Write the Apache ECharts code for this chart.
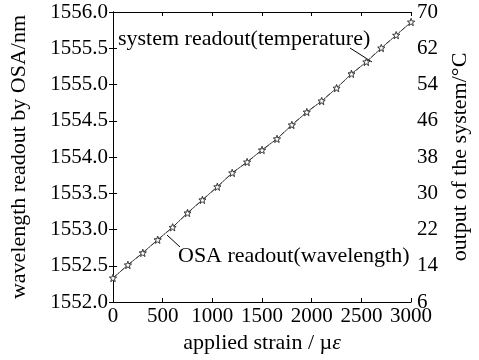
<!DOCTYPE html>
<html>
<head>
<meta charset="utf-8">
<script src="https://cdn.jsdelivr.net/npm/echarts@6/dist/echarts.min.js"></script>
<style>
  html, body { margin: 0; padding: 0; background: #fff; }
  #chart { width: 479px; height: 360px; }
</style>
</head>
<body>
<div id="chart"></div>
<script>
// applied strain (µε)
const strain = [0, 150, 300, 450, 600, 750, 900, 1050, 1200, 1350, 1500,
  1650, 1800, 1950, 2100, 2250, 2400, 2550, 2700, 2850, 3000];
// OSA readout, wavelength (nm)
const wavelength = [1552.33, 1552.51, 1552.68, 1552.86, 1553.03, 1553.23, 1553.41,
  1553.59, 1553.78, 1553.93, 1554.10, 1554.25, 1554.44, 1554.62, 1554.77,
  1554.95, 1555.15, 1555.31, 1555.50, 1555.68, 1555.86];
// system readout, temperature (°C)
const temperature = [11.3, 14.2, 16.8, 19.7, 22.5, 25.6, 28.5, 31.4, 34.5, 36.9,
  39.5, 42.0, 45.1, 47.9, 50.4, 53.2, 56.3, 59.0, 62.1, 64.9, 67.8];

const FONT = '"Liberation Serif", "DejaVu Serif", serif';
const star = 'path://M0,-10 L2.35,-3.24 L9.51,-3.09 L3.8,1.24 L5.88,8.09 L0,4 L-5.88,8.09 L-3.8,1.24 L-9.51,-3.09 L-2.35,-3.24 Z';

const chart = echarts.init(document.getElementById('chart'), null, { renderer: 'canvas' });

const axisLine = { show: true, lineStyle: { color: '#000', width: 1 } };
const tickIn = { show: true, inside: true, length: 4, lineStyle: { color: '#000' } };
const labelStyle = { color: '#000', fontSize: 21, fontFamily: FONT };
const nameStyle = { color: '#000', fontSize: 22, fontFamily: FONT };

const option = {
  backgroundColor: '#fff',
  animation: false,
  textStyle: { fontFamily: FONT },
  grid: { left: 111, right: 59, top: 12, bottom: 58 },
  xAxis: [
    {
      type: 'value', min: 0, max: 3000, interval: 500,
      axisLine, axisTick: tickIn, splitLine: { show: false },
      axisLabel: { ...labelStyle, margin: 4, formatter: v => String(v) },
      name: 'applied strain / µ{it|ε}',
      nameLocation: 'middle', nameGap: 30,
      nameTextStyle: {
        ...nameStyle,
        rich: { it: { fontStyle: 'italic', fontSize: 22, fontFamily: FONT, color: '#000' } }
      }
    },
    {
      type: 'value', position: 'top', min: 0, max: 3000, interval: 500,
      axisLine, axisTick: tickIn, axisLabel: { show: false }, splitLine: { show: false }
    }
  ],
  yAxis: [
    {
      type: 'value', min: 1552, max: 1556, interval: 0.5,
      axisLine, axisTick: tickIn, splitLine: { show: false },
      axisLabel: { ...labelStyle, margin: 5, formatter: v => v.toFixed(1) },
      name: 'wavelength readout by OSA/nm',
      nameLocation: 'middle', nameGap: 83,
      nameTextStyle: nameStyle
    },
    {
      type: 'value', position: 'right', min: 6, max: 70, interval: 8,
      axisLine, axisTick: tickIn, splitLine: { show: false },
      axisLabel: { ...labelStyle, margin: 6 },
      name: 'output of the system/°C',
      nameLocation: 'middle', nameGap: 36, nameRotate: 90,
      nameTextStyle: nameStyle
    }
  ],
  series: [
    {
      name: 'OSA readout(wavelength)',
      type: 'line', yAxisIndex: 0,
      data: strain.map((s, i) => [s, wavelength[i]]),
      symbol: star, symbolSize: 7,
      itemStyle: { color: '#fff', borderColor: '#222', borderWidth: 0.7 },
      lineStyle: { color: '#222', width: 0.7 }
    },
    {
      name: 'system readout(temperature)',
      type: 'line', yAxisIndex: 1,
      data: strain.map((s, i) => [s, temperature[i]]),
      symbol: star, symbolSize: 7,
      itemStyle: { color: '#fff', borderColor: '#222', borderWidth: 0.7 },
      lineStyle: { color: '#222', width: 0.8, type: [5, 2, 1, 2] }
    }
  ],
  graphic: [
    { type: 'text', left: 118, top: 28,
      style: { text: 'system readout(temperature)', fill: '#000', font: '22px ' + FONT } },
    { type: 'line', shape: { x1: 350, y1: 48, x2: 372, y2: 62 },
      style: { stroke: '#000', lineWidth: 1 } },
    { type: 'text', left: 178, top: 245,
      style: { text: 'OSA readout(wavelength)', fill: '#000', font: '22px ' + FONT } },
    { type: 'line', shape: { x1: 167, y1: 235, x2: 180, y2: 247 },
      style: { stroke: '#000', lineWidth: 1 } }
  ]
};

chart.setOption(option);
</script>
</body>
</html>
